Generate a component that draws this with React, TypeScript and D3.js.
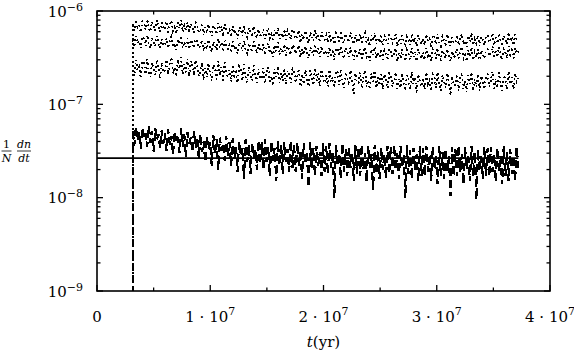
import * as d3 from 'd3';
import React, { useEffect, useRef } from 'react';

// time span covered by the simulated rates (yr)
const tStart = 3.15e6;
const tEnd = 3.72e7;

// dotted series, in units of 1e-7
const dottedUnit = 1e-7;
const rateUpper = [
  7.4, 6.2, 8.0, 6.7, 7.1, 5.9, 7.8, 7.6, 6.3, 8.2, 6.5, 6.0, 7.7, 7.0, 6.2, 8.0, 6.8, 6.0, 7.5, 6.4,
  6.4, 7.7, 5.9, 7.2, 7.9, 6.1, 6.7, 5.7, 7.5, 6.5, 8.0, 6.0, 7.0, 6.2, 7.6, 5.8, 7.3, 6.8, 5.9, 7.5,
  7.0, 5.9, 6.3, 7.4, 5.5, 6.7, 5.8, 7.2, 6.1, 5.4, 7.0, 6.5, 5.6, 7.4, 6.0, 6.8, 5.4, 7.2, 6.2, 5.8,
  6.3, 5.3, 6.9, 5.7, 6.1, 5.0, 6.7, 6.5, 5.4, 7.0, 5.6, 5.2, 6.6, 6.0, 5.3, 6.8, 5.8, 5.1, 6.4, 5.5,
  5.4, 6.4, 5.0, 6.0, 6.6, 5.1, 5.6, 4.7, 6.3, 5.5, 6.7, 5.0, 5.9, 5.2, 6.4, 4.9, 6.2, 5.7, 5.0, 6.3,
  5.9, 5.0, 5.3, 6.2, 4.6, 5.6, 4.9, 6.1, 5.1, 4.5, 5.9, 5.5, 4.8, 6.3, 5.0, 5.7, 4.6, 6.0, 5.2, 4.9,
  5.5, 4.6, 6.0, 4.9, 5.3, 4.4, 5.8, 5.6, 4.7, 6.1, 4.8, 4.5, 5.7, 5.2, 4.6, 5.9, 5.0, 4.4, 5.6, 4.8,
  4.7, 5.6, 4.4, 5.3, 5.8, 4.5, 4.9, 4.2, 5.5, 4.8, 5.9, 4.4, 5.2, 4.6, 5.6, 4.3, 5.4, 5.0, 4.4, 5.5,
  5.4, 4.5, 4.9, 5.6, 4.2, 5.1, 4.4, 5.5, 4.7, 4.1, 5.3, 5.0, 4.3, 5.7, 4.6, 5.2, 4.2, 5.5, 4.8, 4.4,
  5.1, 4.3, 5.6, 4.7, 5.0, 4.1, 5.5, 5.3, 4.4, 5.7, 4.6, 4.2, 5.4, 4.9, 4.4, 5.6, 4.8, 4.2, 5.2, 4.5,
  4.6, 5.5, 4.3, 5.2, 5.7, 4.4, 4.8, 4.1, 5.4, 4.7, 5.8, 4.3, 5.0, 4.5, 5.5, 4.2, 5.3, 4.9, 4.3, 5.4,
  5.5, 4.6, 5.0, 5.8, 4.3, 5.2, 4.5, 5.7, 4.8, 4.2, 5.4, 5.1, 4.4, 5.9, 4.7, 5.3, 4.3, 5.6, 4.9, 5.2
];
const rateMiddle = [
  4.9, 4.1, 5.4, 4.5, 4.8, 4.0, 5.3, 5.1, 4.2, 5.5, 4.4, 4.0, 5.2, 4.7, 4.2, 5.4, 4.6, 4.0, 5.0, 4.3,
  4.3, 5.1, 4.0, 4.8, 5.3, 4.1, 4.5, 3.8, 5.0, 4.4, 5.4, 4.0, 4.7, 4.1, 5.1, 3.9, 4.9, 4.6, 4.0, 5.0,
  4.7, 4.0, 4.3, 4.9, 3.7, 4.5, 3.9, 4.9, 4.1, 3.6, 4.7, 4.3, 3.8, 5.0, 4.0, 4.6, 3.7, 4.8, 4.2, 3.9,
  4.3, 3.6, 4.7, 3.9, 4.2, 3.5, 4.6, 4.4, 3.7, 4.8, 3.8, 3.5, 4.5, 4.1, 3.6, 4.7, 4.0, 3.5, 4.4, 3.8,
  3.7, 4.4, 3.4, 4.1, 4.5, 3.5, 3.8, 3.2, 4.3, 3.7, 4.6, 3.4, 4.0, 3.5, 4.4, 3.3, 4.2, 3.9, 3.4, 4.3,
  4.1, 3.5, 3.7, 4.3, 3.2, 3.9, 3.4, 4.2, 3.6, 3.1, 4.1, 3.8, 3.3, 4.4, 3.5, 4.0, 3.2, 4.2, 3.6, 3.4,
  3.8, 3.2, 4.1, 3.4, 3.7, 3.0, 4.0, 3.9, 3.3, 4.2, 3.4, 3.1, 4.0, 3.6, 3.2, 4.1, 3.5, 3.0, 3.9, 3.3,
  3.3, 3.9, 3.1, 3.7, 4.1, 3.2, 3.4, 2.9, 3.9, 3.4, 4.1, 3.1, 3.6, 3.2, 3.9, 3.0, 3.8, 3.5, 3.1, 3.9,
  3.8, 3.2, 3.4, 4.0, 2.9, 3.6, 3.1, 3.9, 3.3, 2.9, 3.8, 3.5, 3.0, 4.0, 3.2, 3.7, 2.9, 3.9, 3.4, 3.1,
  3.6, 3.0, 4.0, 3.3, 3.5, 2.9, 3.9, 3.7, 3.1, 4.0, 3.2, 3.0, 3.8, 3.4, 3.1, 3.9, 3.3, 2.9, 3.7, 3.2,
  3.3, 3.9, 3.1, 3.7, 4.1, 3.1, 3.4, 2.9, 3.8, 3.4, 4.1, 3.0, 3.6, 3.2, 3.9, 3.0, 3.8, 3.5, 3.1, 3.8,
  3.9, 3.3, 3.6, 4.2, 3.1, 3.7, 3.2, 4.1, 3.4, 3.0, 3.9, 3.6, 3.1, 4.2, 3.4, 3.8, 3.1, 4.0, 3.5, 3.7
];
const rateLower = [
  2.7, 2.0, 3.0, 2.3, 2.5, 1.9, 2.9, 2.8, 2.1, 3.05, 2.2, 1.95, 2.8, 2.5, 2.05, 3.0, 2.4, 1.9, 2.8, 2.2,
  2.3, 3.0, 2.1, 2.8, 3.2, 2.15, 2.5, 2.0, 3.0, 2.4, 3.2, 2.1, 2.7, 2.2, 3.05, 2.0, 2.9, 2.6, 2.05, 2.95,
  2.6, 2.0, 2.3, 2.8, 1.8, 2.45, 1.95, 2.75, 2.1, 1.8, 2.65, 2.35, 1.85, 2.9, 2.05, 2.5, 1.8, 2.8, 2.2, 1.95,
  2.35, 1.75, 2.65, 2.0, 2.2, 1.7, 2.55, 2.45, 1.8, 2.7, 1.95, 1.7, 2.5, 2.15, 1.8, 2.6, 2.05, 1.7, 2.4, 1.9,
  1.9, 2.45, 1.7, 2.2, 2.5, 1.75, 2.0, 1.6, 2.4, 1.95, 2.55, 1.7, 2.15, 1.8, 2.45, 1.65, 2.3, 2.1, 1.7, 2.4,
  2.25, 1.7, 1.95, 2.4, 1.55, 2.1, 1.65, 2.35, 1.85, 1.55, 2.3, 2.0, 1.6, 2.45, 1.8, 2.15, 1.55, 2.35, 1.9, 1.7,
  2.05, 1.55, 2.35, 1.75, 1.95, 1.5, 2.3, 2.2, 1.6, 2.4, 1.7, 1.5, 2.2, 1.9, 1.6, 2.3, 1.85, 1.3, 2.15, 1.7,
  1.7, 2.2, 1.5, 2.0, 2.3, 1.55, 1.8, 1.45, 2.15, 1.75, 2.3, 1.5, 1.95, 1.6, 2.2, 1.45, 2.1, 1.85, 1.5, 2.15,
  2.1, 1.55, 1.8, 2.2, 1.4, 1.9, 1.5, 2.15, 1.7, 1.4, 2.05, 1.85, 1.45, 2.25, 1.65, 1.95, 1.3, 2.1, 1.75, 1.55,
  1.9, 1.45, 2.2, 1.65, 1.8, 1.4, 2.1, 2.0, 1.5, 2.2, 1.6, 1.4, 2.05, 1.75, 1.5, 2.15, 1.7, 1.25, 2.0, 1.6,
  1.6, 2.1, 1.4, 1.9, 2.2, 1.45, 1.75, 1.35, 2.05, 1.65, 2.2, 1.4, 1.85, 1.55, 2.1, 1.4, 2.0, 1.8, 1.45, 2.05,
  2.1, 1.55, 1.8, 2.25, 1.4, 1.9, 1.5, 2.2, 1.7, 1.4, 2.05, 1.85, 1.45, 2.25, 1.65, 1.95, 1.45, 2.15, 1.75, 1.9
];

// dashed series, in units of 1e-8
const dashedUnit = 1e-8;
const rateTotal = [
  5.4, 3.6, 5.8, 4.1, 5.0, 3.3, 5.6, 4.4, 4.9, 3.5, 5.9, 3.9, 5.2, 3.1, 5.5, 4.2, 4.8, 3.4, 5.3, 3.8,
  4.9, 3.2, 5.4, 3.7, 4.6, 2.9, 5.1, 4.0, 4.5, 3.0, 5.5, 3.5, 4.8, 2.7, 5.0, 3.8, 4.4, 3.1, 5.2, 3.4,
  4.4, 2.6, 4.8, 3.1, 4.0, 2.4, 4.5, 3.3, 3.9, 2.2, 4.7, 2.9, 4.2, 2.0, 4.4, 3.2, 3.8, 2.5, 4.6, 2.8,
  3.9, 2.2, 4.3, 2.6, 3.5, 1.9, 4.0, 2.8, 3.4, 1.6, 4.2, 2.4, 3.7, 1.8, 3.9, 2.7, 3.3, 2.0, 4.1, 2.3,
  3.9, 2.0, 4.2, 2.4, 3.5, 1.7, 4.0, 2.5, 3.4, 1.5, 4.1, 2.2, 3.7, 1.8, 3.9, 2.4, 3.3, 1.9, 4.1, 2.1,
  3.7, 1.9, 3.9, 2.2, 3.2, 1.6, 3.8, 2.3, 3.1, 1.3, 3.9, 2.0, 3.4, 1.7, 3.6, 2.2, 3.1, 1.7, 3.8, 1.9,
  3.6, 1.8, 3.8, 2.1, 3.1, 1.0, 3.7, 2.2, 3.0, 1.6, 3.8, 1.9, 3.3, 1.7, 3.5, 2.1, 3.0, 1.5, 3.7, 1.8,
  3.5, 1.7, 3.7, 2.0, 3.0, 1.5, 3.6, 2.1, 2.9, 1.2, 3.7, 1.8, 3.2, 1.6, 3.4, 2.0, 2.9, 1.6, 3.6, 1.8,
  3.5, 1.8, 3.7, 2.0, 3.0, 1.6, 3.6, 2.1, 2.9, 1.0, 3.7, 1.8, 3.2, 1.6, 3.4, 2.0, 2.9, 1.5, 3.6, 1.7,
  3.4, 1.7, 3.6, 1.9, 2.9, 1.5, 3.5, 2.0, 2.8, 1.4, 3.6, 1.7, 3.1, 1.6, 3.3, 1.9, 2.8, 1.05, 3.5, 1.7,
  3.3, 1.7, 3.6, 1.9, 2.9, 1.4, 3.5, 2.0, 2.8, 1.5, 3.6, 1.7, 3.1, 0.95, 3.3, 1.9, 2.8, 1.6, 3.5, 1.7,
  3.4, 1.7, 3.5, 1.9, 2.9, 1.5, 3.4, 1.9, 2.8, 1.4, 3.6, 1.7, 3.1, 1.5, 3.3, 1.8, 2.8, 1.5, 3.5, 2.1
];

const meanRate = 2.65e-8;

const xTickValues = [0, 1e7, 2e7, 3e7, 4e7];
const xTickMantissa = ['0', '1', '2', '3', '4'];
const yTickExponents = [-6, -7, -8, -9];

export default function App() {
  const ref = useRef<SVGSVGElement>(null);

  function drawChart() {
    const margin = { top: 11, right: 24, bottom: 63, left: 97 };
    const width = 574 - margin.left - margin.right;
    const height = 354 - margin.top - margin.bottom;
    const svg = d3.select(ref.current);
    svg.selectAll('*').remove();

    const x = d3.scaleLinear().domain([0, 4e7]).range([margin.left, margin.left + width]);
    const y = d3.scaleLog().domain([1e-9, 1e-6]).range([margin.top + height, margin.top]);

    svg
      .append('clipPath')
      .attr('id', 'plotclip')
      .append('rect')
      .attr('x', margin.left)
      .attr('y', margin.top)
      .attr('width', width)
      .attr('height', height);

    const plot = svg.append('g').attr('clip-path', 'url(#plotclip)');

    // each run starts from zero rate, which lies below the log axis
    function toPoints(vals: number[], unit: number) {
      const step = (tEnd - tStart) / (vals.length - 1);
      const pts: [number, number][] = [[tStart, 1e-12]];
      vals.forEach((v, i) => pts.push([tStart + i * step, v * unit]));
      return pts;
    }
    const line = d3
      .line<[number, number]>()
      .x((d) => x(d[0]))
      .y((d) => y(d[1]));

    plot
      .append('line')
      .attr('x1', x(0))
      .attr('x2', x(tEnd))
      .attr('y1', y(meanRate))
      .attr('y2', y(meanRate))
      .attr('stroke', '#000')
      .attr('stroke-width', 1.7);

    plot
      .append('path')
      .attr('d', line(toPoints(rateTotal, dashedUnit)))
      .attr('fill', 'none')
      .attr('stroke', '#000')
      .attr('stroke-width', 2.2)
      .attr('stroke-dasharray', '8,4')
      .attr('shape-rendering', 'crispEdges');

    [rateLower, rateMiddle, rateUpper].forEach((vals) => {
      plot
        .append('path')
        .attr('d', line(toPoints(vals, dottedUnit)))
        .attr('fill', 'none')
        .attr('stroke', '#000')
        .attr('stroke-width', 1.8)
        .attr('stroke-dasharray', '1.8,2.7')
        .attr('shape-rendering', 'crispEdges');
    });

    // frame
    svg
      .append('rect')
      .attr('x', margin.left)
      .attr('y', margin.top)
      .attr('width', width)
      .attr('height', height)
      .attr('fill', 'none')
      .attr('stroke', '#000')
      .attr('stroke-width', 1.6);

    const ticks = svg.append('g').attr('stroke', '#000').attr('stroke-width', 1.3);
    y.ticks().forEach((v) => {
      const major = Math.abs(Math.log10(v) - Math.round(Math.log10(v))) < 1e-6;
      const len = major ? 6 : 3.5;
      ticks.append('line').attr('x1', x(0)).attr('x2', x(0) + len).attr('y1', y(v)).attr('y2', y(v));
      ticks.append('line').attr('x1', x(4e7)).attr('x2', x(4e7) - len).attr('y1', y(v)).attr('y2', y(v));
    });
    d3.range(0, 4e7 + 1, 5e6).forEach((t) => {
      const major = t % 1e7 === 0;
      const len = major ? 6 : 3.5;
      ticks.append('line').attr('x1', x(t)).attr('x2', x(t)).attr('y1', y(1e-9)).attr('y2', y(1e-9) - len);
      ticks.append('line').attr('x1', x(t)).attr('x2', x(t)).attr('y1', y(1e-6)).attr('y2', y(1e-6) + len);
    });

    const font = '"DejaVu Serif", "Liberation Serif", serif';

    yTickExponents.forEach((e) => {
      const t = svg
        .append('text')
        .attr('x', 83)
        .attr('y', y(Math.pow(10, e)) + 5.5)
        .attr('text-anchor', 'end')
        .style('font-family', font)
        .style('font-size', '15px');
      t.append('tspan').text('10');
      t.append('tspan').attr('dy', -6).style('font-size', '11px').text('\u2212' + -e);
    });

    xTickValues.forEach((v, i) => {
      const t = svg
        .append('text')
        .attr('x', x(v))
        .attr('y', 322)
        .attr('text-anchor', 'middle')
        .style('font-family', font)
        .style('font-size', '15px');
      if (v === 0) {
        t.text(xTickMantissa[i]);
      } else {
        t.append('tspan').text(xTickMantissa[i] + ' \u00b7 10');
        t.append('tspan').attr('dy', -7).style('font-size', '11px').text('7');
      }
    });

    const xt = svg
      .append('text')
      .attr('x', margin.left + width / 2)
      .attr('y', 347)
      .attr('text-anchor', 'middle')
      .style('font-family', font)
      .style('font-size', '15px');
    xt.append('tspan').style('font-style', 'italic').text('t');
    xt.append('tspan').text('(yr)');

    // y label: 1/N dn/dt as two stacked fractions
    const yl = svg.append('g').style('font-family', font).style('font-size', '11px').attr('text-anchor', 'middle');
    yl.append('text').attr('x', 6.5).attr('y', 148).text('1');
    yl.append('text').attr('x', 6.5).attr('y', 161.5).style('font-style', 'italic').text('N');
    yl.append('text').attr('x', 24).attr('y', 148).style('font-style', 'italic').text('dn');
    yl.append('text').attr('x', 24).attr('y', 161.5).style('font-style', 'italic').text('dt');
    yl.append('line').attr('x1', 1.5).attr('x2', 11.5).attr('y1', 151).attr('y2', 151).attr('stroke', '#000').attr('stroke-width', 0.8);
    yl.append('line').attr('x1', 17).attr('x2', 31).attr('y1', 151).attr('y2', 151).attr('stroke', '#000').attr('stroke-width', 0.8);
  }

  useEffect(() => {
    drawChart();
  }, []);

  return (
    <svg
      ref={ref}
      width={574}
      height={354}
      style={{ position: 'absolute', left: 0, top: 0, background: '#fff' }}
    ></svg>
  );
}
